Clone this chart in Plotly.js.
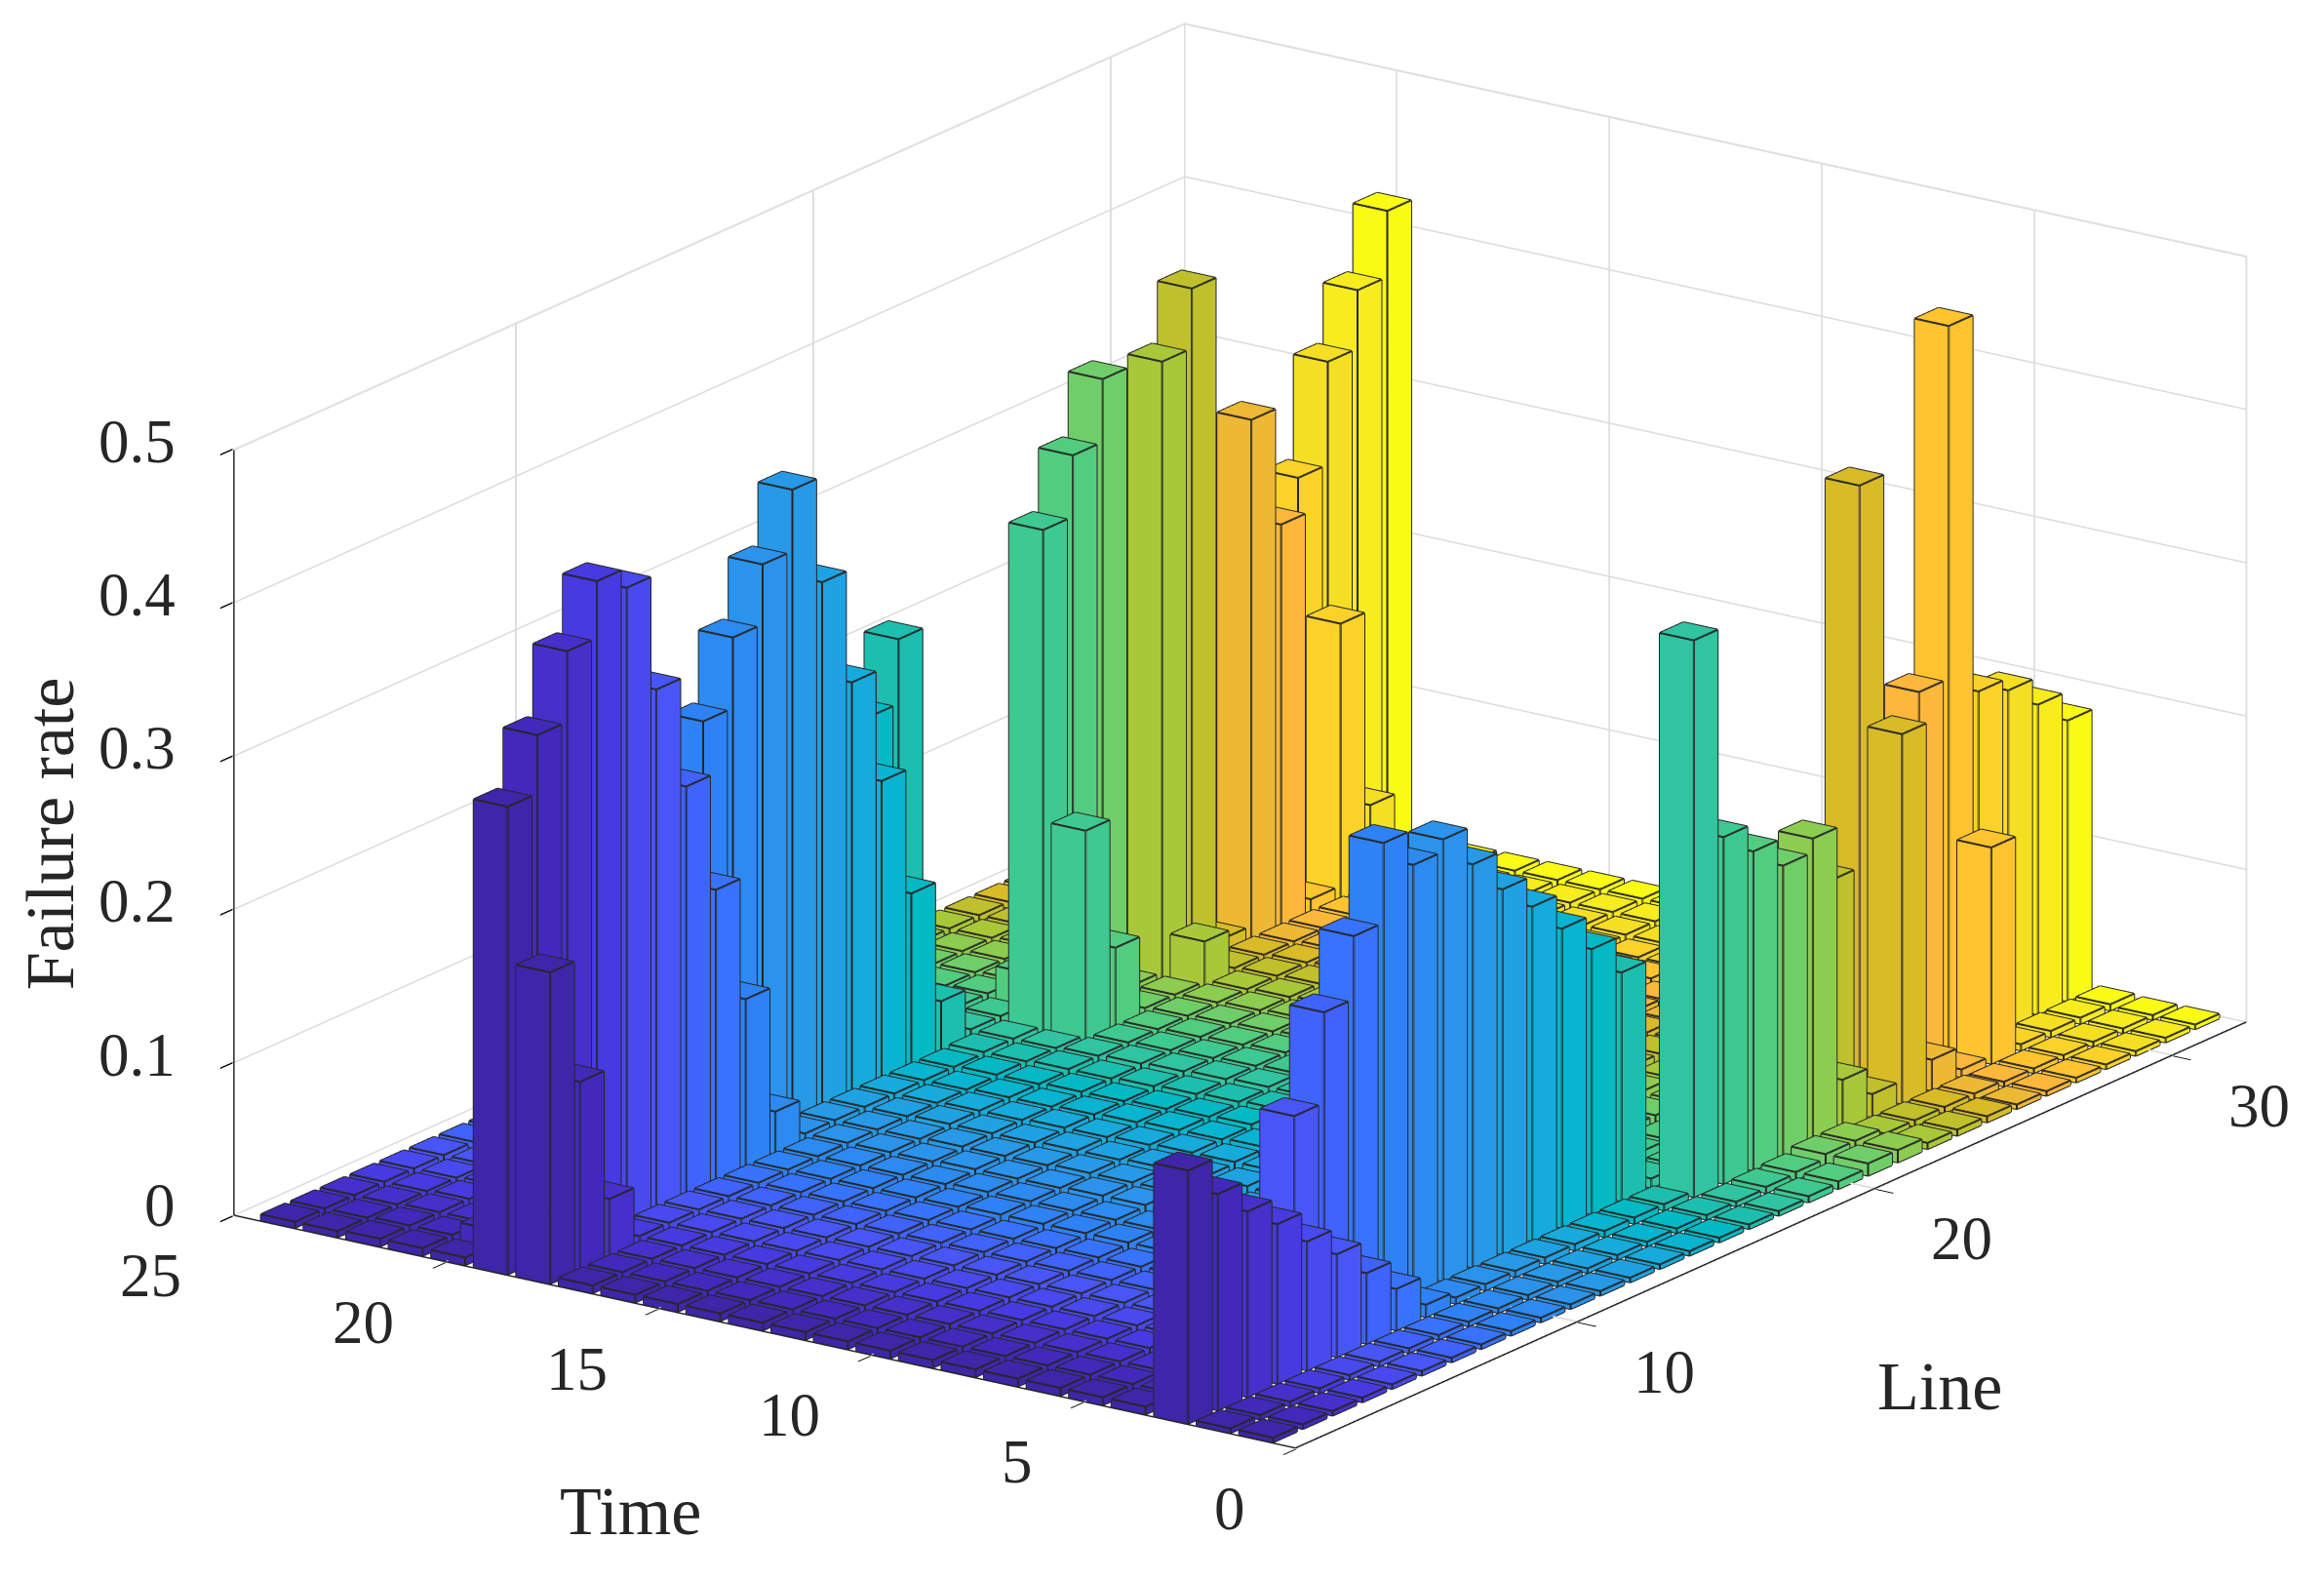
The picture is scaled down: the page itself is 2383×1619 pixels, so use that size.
<!DOCTYPE html>
<html><head><meta charset="utf-8">
<script src="https://cdn.plot.ly/plotly-3.0.1.min.js"></script>
<style>html,body{margin:0;padding:0;background:#fff}#chart{width:2383px;height:1619px}</style>
</head><body><div id="chart"></div>
<script>
const times=[1,2,3,4,5,6,7,8,9,10,11,12,13,14,15,16,17,18,19,20,21,22,23,24];
const lines=[1,2,3,4,5,6,7,8,9,10,11,12,13,14,15,16,17,18,19,20,21,22,23,24,25,26,27,28,29,30,31,32];
const lineColors=['#3E26A8','#4229BB','#4530CC','#473AE0','#4949F0','#4856F8','#4062FD','#3873FF','#2F82F5','#2C8AF0','#2B93EC','#2799E6','#1FA2E2','#16ABDB','#08B4CF','#03BAC4','#1CBFAE','#30C4A0','#3DC98F','#52CC7E','#70CE68','#8CCC50','#A8C83A','#BFC02B','#D8BB26','#EDB833','#FDB73A','#FFC42F','#FAD228','#F5DF22','#F6EC1E','#F9FB15'];
const timeTicks=[0,5,10,15,20,25];
const lineTicks=[10,20,30];
const rateTicks=[0,0.1,0.2,0.3,0.4,0.5];
// one row per time step, one column per line
const t01=[.003,.003,.003,.003,.003,.003,.003,.003,.003,.003,.003,.003,.003,.003,.003,.003,.003,.003,.004,.005,.008,.008,.004,.004,.004,.003,.003,.003,.003,.003,.003,.003];
const t02=[.003,.003,.003,.003,.003,.003,.003,.003,.003,.003,.003,.003,.003,.003,.003,.003,.003,.003,.004,.005,.008,.008,.004,.004,.004,.004,.003,.003,.003,.003,.003,.003];
const t03=[.165,.141,.121,.104,.084,.067,.046,.027,.008,.004,.004,.004,.004,.004,.004,.004,.004,.363,.226,.208,.190,.199,.033,.015,.241,.020,.005,.141,.004,.004,.004,.004];
const t04=[.005,.005,.005,.005,.005,.151,.210,.251,.303,.280,.288,.263,.238,.218,.195,.173,.149,.006,.006,.006,.006,.006,.006,.148,.397,.012,.245,.475,.228,.220,.202,.183];
const t05=[.005,.005,.005,.005,.005,.005,.005,.005,.005,.005,.006,.006,.006,.006,.007,.007,.007,.008,.008,.008,.008,.008,.008,.008,.008,.008,.008,.006,.006,.006,.006,.006];
const t06=[.005,.005,.005,.005,.005,.005,.005,.005,.005,.006,.006,.006,.006,.007,.007,.007,.008,.009,.009,.009,.009,.009,.009,.009,.009,.009,.008,.007,.006,.006,.006,.006];
const t07=[.005,.005,.005,.005,.005,.005,.005,.005,.006,.006,.006,.006,.007,.007,.007,.008,.009,.010,.010,.010,.010,.010,.010,.010,.010,.009,.008,.007,.006,.006,.006,.006];
const t08=[.005,.005,.005,.005,.005,.005,.005,.005,.006,.006,.006,.007,.007,.007,.008,.009,.010,.011,.011,.011,.011,.011,.011,.011,.010,.009,.008,.007,.006,.006,.006,.006];
const t09=[.005,.005,.005,.005,.005,.005,.005,.005,.006,.006,.007,.007,.007,.008,.009,.010,.011,.012,.012,.012,.012,.012,.012,.011,.010,.009,.008,.007,.006,.006,.006,.006];
const t10=[.005,.005,.005,.005,.005,.005,.005,.005,.006,.006,.007,.007,.008,.009,.010,.010,.011,.012,.012,.012,.012,.012,.012,.011,.010,.009,.008,.007,.006,.006,.006,.006];
const t11=[.005,.005,.005,.005,.005,.005,.005,.005,.006,.006,.007,.007,.008,.009,.010,.010,.011,.012,.012,.012,.012,.012,.012,.011,.010,.009,.008,.007,.006,.006,.006,.006];
const t12=[.005,.005,.005,.005,.005,.005,.005,.005,.006,.006,.007,.007,.008,.009,.009,.010,.011,.011,.012,.012,.012,.012,.012,.011,.010,.009,.008,.007,.006,.006,.006,.006];
const t13=[.005,.005,.005,.005,.005,.005,.005,.005,.006,.006,.006,.007,.007,.008,.009,.009,.010,.011,.011,.011,.011,.011,.011,.010,.010,.009,.008,.007,.006,.006,.006,.006];
const t14=[.005,.005,.005,.005,.005,.005,.005,.005,.005,.006,.006,.006,.007,.007,.008,.008,.009,.010,.010,.010,.010,.010,.010,.010,.009,.009,.008,.007,.006,.006,.006,.006];
const t15=[.005,.005,.005,.005,.005,.005,.005,.005,.005,.005,.006,.006,.006,.007,.007,.007,.008,.009,.009,.009,.009,.009,.009,.009,.009,.009,.008,.007,.006,.006,.006,.006];
const t16=[.005,.005,.005,.005,.005,.005,.005,.005,.005,.005,.005,.006,.006,.006,.006,.007,.007,.008,.008,.008,.008,.008,.008,.008,.008,.008,.008,.007,.006,.006,.006,.006];
const t17=[.005,.005,.005,.005,.005,.005,.005,.005,.005,.005,.005,.005,.006,.006,.006,.006,.007,.007,.007,.007,.007,.007,.007,.007,.007,.007,.007,.006,.006,.006,.006,.006];
const t18=[.203,.123,.038,.005,.005,.005,.005,.005,.005,.005,.005,.005,.005,.005,.005,.006,.006,.006,.139,.054,.006,.006,.032,.006,.006,.006,.006,.006,.006,.006,.006,.006];
const t19=[.305,.343,.389,.426,.413,.338,.266,.190,.110,.028,.005,.005,.005,.005,.005,.005,.006,.006,.329,.369,.410,.006,.404,.443,.010,.340,.263,.010,.181,.054,.006,.006];
const t20=[.005,.014,.005,.005,.005,.005,.005,.005,.285,.331,.370,.410,.341,.267,.194,.112,.033,.006,.006,.025,.006,.006,.006,.006,.006,.006,.006,.006,.270,.337,.375,.418];
const t21=[.005,.005,.005,.005,.005,.005,.005,.005,.005,.005,.005,.005,.005,.005,.005,.221,.263,.006,.006,.006,.006,.006,.006,.006,.006,.006,.006,.006,.006,.006,.006,.006];
const t22=[.005,.005,.005,.005,.005,.005,.005,.005,.005,.005,.005,.005,.005,.005,.005,.005,.005,.005,.005,.005,.005,.005,.005,.005,.005,.005,.005,.005,.005,.005,.005,.005];
const t23=[.004,.004,.004,.004,.004,.004,.004,.004,.004,.004,.004,.004,.004,.004,.004,.004,.004,.004,.004,.004,.004,.004,.004,.004,.004,.004,.004,.004,.004,.004,.004,.004];
const t24=[.004,.004,.004,.004,.004,.004,.004,.004,.004,.004,.004,.004,.004,.004,.004,.004,.004,.004,.004,.004,.004,.004,.004,.004,.004,.004,.004,.004,.004,.004,.004,.004];
const failureRate=[t01,t02,t03,t04,t05,t06,t07,t08,t09,t10,t11,t12,t13,t14,t15,t16,t17,t18,t19,t20,t21,t22,t23,t24];

const W=0.4;
const xMin=0.5,xMax=32.5,yMax=25,zMax=0.5;
const vx=[],vy=[],vz=[],fi=[],fj=[],fk=[],fc=[];
const ex=[],ey=[],ez=[];
times.forEach((t,ti)=>lines.forEach((l,li)=>{
  const h=failureRate[ti][li], c=lineColors[li], b=vx.length;
  const xs=[l-W,l+W,l+W,l-W], ys=[t-W,t-W,t+W,t+W];
  for(let k=0;k<4;k++){vx.push(xs[k]);vy.push(ys[k]);vz.push(0);}
  for(let k=0;k<4;k++){vx.push(xs[k]);vy.push(ys[k]);vz.push(h);}
  const tri=[[4,5,6],[4,6,7],[0,1,5],[0,5,4],[1,2,6],[1,6,5],[2,3,7],[2,7,6],[3,0,4],[3,4,7]];
  tri.forEach(q=>{fi.push(b+q[0]);fj.push(b+q[1]);fk.push(b+q[2]);fc.push(c);});
  for(let k=0;k<4;k++){
    const n=(k+1)%4;
    ex.push(xs[k],xs[n],null);ey.push(ys[k],ys[n],null);ez.push(h,h,null);
    ex.push(xs[k],xs[k],null);ey.push(ys[k],ys[k],null);ez.push(0,h,null);
    ex.push(xs[k],xs[n],null);ey.push(ys[k],ys[n],null);ez.push(0,0,null);
  }
}));
const bars={type:'mesh3d',x:vx,y:vy,z:vz,i:fi,j:fj,k:fk,facecolor:fc,flatshading:true,
  lighting:{ambient:1,diffuse:0,specular:0,fresnel:0,roughness:1},hoverinfo:'skip',showscale:false};
const edges={type:'scatter3d',mode:'lines',x:ex,y:ey,z:ez,line:{color:'#262626',width:4},hoverinfo:'skip',showlegend:false};
// wide wall grid and axis lines (native scene lines are limited to 1px by WebGL); kept a hair inside the clip box
const gxHi=xMax-0.02,gyHi=yMax-0.02,gzHi=zMax-0.0005,gxLo=xMin+0.02,gyLo=0.02,gzLo=0.0005;
const gx=[],gy=[],gz=[];
const seg=(a,b)=>{gx.push(a[0],b[0],null);gy.push(a[1],b[1],null);gz.push(a[2],b[2],null);};
const zIn=v=>Math.min(Math.max(v,gzLo),gzHi), yIn=v=>Math.min(Math.max(v,gyLo),gyHi);
rateTicks.forEach(v=>{seg([gxLo,gyHi,zIn(v)],[gxHi,gyHi,zIn(v)]);seg([gxHi,gyLo,zIn(v)],[gxHi,gyHi,zIn(v)]);});
lineTicks.forEach(v=>{seg([v,gyHi,gzLo],[v,gyHi,gzHi]);seg([v,gyLo,gzLo],[v,gyHi,gzLo]);});
timeTicks.forEach(v=>{seg([gxHi,yIn(v),gzLo],[gxHi,yIn(v),gzHi]);seg([gxLo,yIn(v),gzLo],[gxHi,yIn(v),gzLo]);});
const wallGrid={type:'scatter3d',mode:'lines',x:gx,y:gy,z:gz,line:{color:'#dcdcdc',width:3},hoverinfo:'skip',showlegend:false};
const frame={type:'scatter3d',mode:'lines',
  x:[gxLo,gxHi,null,gxLo,gxLo,null,gxLo,gxLo],
  y:[gyLo,gyLo,null,gyLo,gyHi,null,gyHi,gyHi],
  z:[gzLo,gzLo,null,gzLo,gzLo,null,gzLo,gzHi],
  line:{color:'#262626',width:3},hoverinfo:'skip',showlegend:false};
const tickFont={family:'Liberation Serif',size:63,color:'#262626'};
const titleFont={family:'Liberation Serif',size:70,color:'#262626'};
const axisCommon={showbackground:false,showgrid:true,gridcolor:'#e2e2e2',zeroline:false,showline:false,ticks:'outside',ticklen:22,tickcolor:'#000000',tickwidth:3,showticklabels:false,showspikes:false,title:{text:''},tickmode:'array'};
const label=(x,y,z,text,font,xshift,yshift,extra)=>Object.assign({x,y,z,text:String(text),font,xshift,yshift,showarrow:false},extra||{});
const sceneLabels=[
  ...rateTicks.map(v=>label(xMin,yMax,v,v,tickFont,-56,v===0?11:8,{xanchor:'right'})),
  ...timeTicks.map(v=>label(xMin,v,0,v,tickFont,-50,-61,{xanchor:'right'})),
  ...lineTicks.map(v=>label(v,0,0,v,tickFont,55,-51,{xanchor:'left'})),
  label(xMin,yMax/2,0,'Time',titleFont,-137,-183),
  label((xMin+xMax)/2,0,0,'Line',titleFont,172,-154),
  label(xMin,yMax,0.25,'Failure rate',titleFont,-187,-1,{textangle:-90})
];
const d=[-.7781,-.5443,.3134],R=4,c={x:-.0741,y:.0689,z:-.0643};
const layout={width:2383,height:1619,paper_bgcolor:'#fff',margin:{l:0,r:0,t:0,b:0},showlegend:false,
 scene:{domain:{x:[0,1],y:[0,1]},
  xaxis:Object.assign({},axisCommon,{range:[xMin,xMax],tickvals:lineTicks}),
  yaxis:Object.assign({},axisCommon,{range:[0,yMax],tickvals:timeTicks}),
  zaxis:Object.assign({},axisCommon,{range:[0,zMax],tickvals:rateTicks}),
  aspectmode:'manual',aspectratio:{x:2.1036,y:1.6435,z:1.0228},
  annotations:sceneLabels,
  camera:{projection:{type:'orthographic'},up:{x:0,y:0,z:1},center:c,eye:{x:d[0]*R+c.x,y:d[1]*R+c.y,z:d[2]*R+c.z}}
 }};
Plotly.newPlot('chart',[wallGrid,frame,bars,edges],layout,{displayModeBar:false});
</script></body></html>
